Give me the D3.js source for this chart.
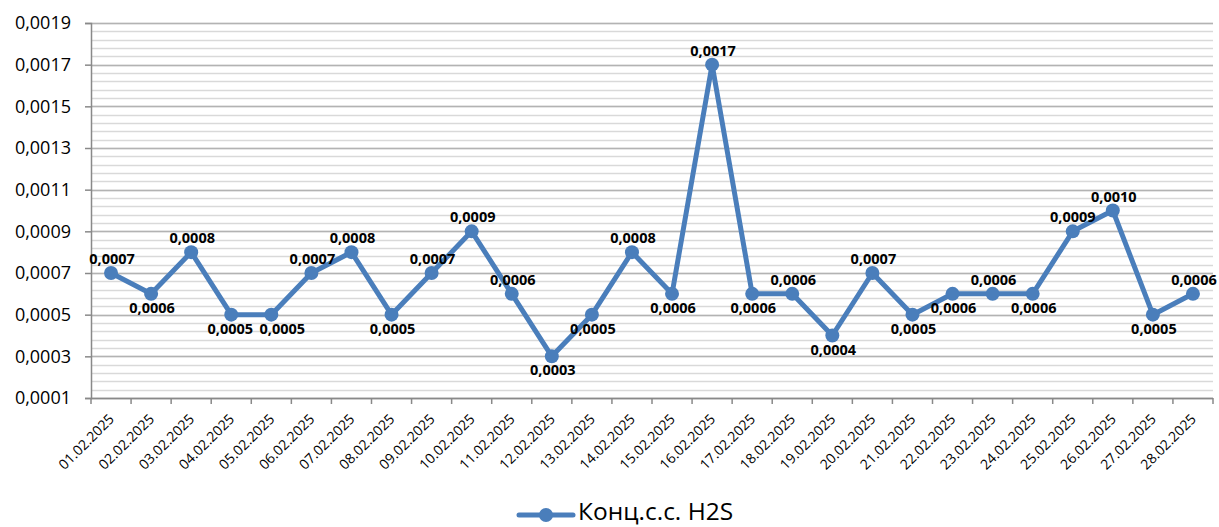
<!DOCTYPE html>
<html><head><meta charset="utf-8">
<script src="https://cdn.jsdelivr.net/npm/d3@7"></script>
<style>body{margin:0;background:#fff;} svg{display:block;}</style>
</head><body>
<svg id="c" width="1219" height="527"></svg>
<script>
const categories = ["01.02.2025","02.02.2025","03.02.2025","04.02.2025","05.02.2025","06.02.2025","07.02.2025","08.02.2025","09.02.2025","10.02.2025","11.02.2025","12.02.2025","13.02.2025","14.02.2025","15.02.2025","16.02.2025","17.02.2025","18.02.2025","19.02.2025","20.02.2025","21.02.2025","22.02.2025","23.02.2025","24.02.2025","25.02.2025","26.02.2025","27.02.2025","28.02.2025"];
const values = [0.0007,0.0006,0.0008,0.0005,0.0005,0.0007,0.0008,0.0005,0.0007,0.0009,0.0006,0.0003,0.0005,0.0008,0.0006,0.0017,0.0006,0.0006,0.0004,0.0007,0.0005,0.0006,0.0006,0.0006,0.0009,0.0010,0.0005,0.0006];
const labelSide = ["a","b","a","b","b","a","a","b","a","a","a","b","b","a","b","a","b","a","b","a","b","b","a","b","a","a","b","a"];
const yTicks = [0.0001,0.0003,0.0005,0.0007,0.0009,0.0011,0.0013,0.0015,0.0017,0.0019];
const seriesName = "Конц.с.с. H2S";

const svg = d3.select("#c");
const L = 91, R = 1213, T = 23, B = 398;
const x = d3.scaleBand().domain(categories).range([L, R]);
const y = d3.scaleLinear().domain([0.0001, 0.0019]).range([B, T]);
const fmt = v => d3.format(".4f")(v).replace(".", ",");
const color = "#4a7ebb";
const font = "'Open Sans', sans-serif";
const labelNudge = {4: 10, 3: -2, 24: -1};

// minor gridlines
const minor = d3.range(0, 46).map(i => 0.0001 + i * 0.00004);
svg.append("g").selectAll("line").data(minor).join("line")
  .attr("x1", L).attr("x2", R)
  .attr("y1", d => Math.round(y(d)) + 0.5).attr("y2", d => Math.round(y(d)) + 0.5)
  .attr("stroke", "#d9d9d9").attr("stroke-width", 1.3);
// major gridlines
svg.append("g").selectAll("line").data(yTicks).join("line")
  .attr("x1", L).attr("x2", R)
  .attr("y1", d => Math.round(y(d)) + 0.5).attr("y2", d => Math.round(y(d)) + 0.5)
  .attr("stroke", "#b3b3b3").attr("stroke-width", 1.3);

// y axis
const yAxis = svg.append("g").attr("transform", `translate(${L},0)`)
  .call(d3.axisLeft(y).tickValues(yTicks).tickFormat(fmt).tickSize(6).tickPadding(14));
yAxis.select(".domain").attr("stroke", "#898989").attr("stroke-width", 1.5);
yAxis.selectAll(".tick line").attr("stroke", "#898989").attr("stroke-width", 1.5);
yAxis.selectAll("text").attr("font-family", font).attr("font-size", 18).attr("fill", "#000");

// x axis
const xg = svg.append("g").attr("transform", `translate(0,${B})`);
xg.append("line").attr("x1", L).attr("x2", R).attr("y1", 0.5).attr("y2", 0.5)
  .attr("stroke", "#898989").attr("stroke-width", 1.5);
const bounds = categories.map(c => x(c)).concat([R]);
xg.selectAll("line.tk").data(bounds).join("line").attr("class", "tk")
  .attr("x1", d => d).attr("x2", d => d).attr("y1", 0).attr("y2", 6)
  .attr("stroke", "#898989").attr("stroke-width", 1.5);
xg.selectAll("text").data(categories).join("text")
  .attr("transform", d => `translate(${x(d) + x.bandwidth() / 2 + 4},${22}) rotate(-45)`)
  .attr("text-anchor", "end")
  .attr("font-family", font).attr("font-size", 14).attr("fill", "#000")
  .text(d => d);

// line
const cx = (d, i) => x(categories[i]) + x.bandwidth() / 2;
const line = d3.line().x((d, i) => cx(d, i)).y(d => y(d));
svg.append("path").datum(values).attr("d", line)
  .attr("fill", "none").attr("stroke", color).attr("stroke-width", 5)
  .attr("stroke-linejoin", "round").attr("stroke-linecap", "round");
svg.append("g").selectAll("circle").data(values).join("circle")
  .attr("cx", (d, i) => cx(d, i)).attr("cy", d => y(d)).attr("r", 7)
  .attr("fill", color);

// data labels
svg.append("g").selectAll("text").data(values).join("text")
  .attr("x", (d, i) => cx(d, i) + 1 + (labelNudge[i] || 0))
  .attr("y", (d, i) => y(d) + (labelSide[i] === "a" ? -9 : 19))
  .attr("text-anchor", "middle")
  .attr("font-family", font).attr("font-size", 14.5).attr("font-weight", "bold").attr("fill", "#000")
  .text(d => fmt(d));

// legend
const lg = svg.append("g");
lg.append("line").attr("x1", 519).attr("x2", 573).attr("y1", 515).attr("y2", 515)
  .attr("stroke", color).attr("stroke-width", 5).attr("stroke-linecap", "round");
lg.append("circle").attr("cx", 546).attr("cy", 515).attr("r", 7).attr("fill", color);
lg.append("text").attr("x", 578).attr("y", 520).attr("font-family", font).attr("font-size", 24.5)
  .attr("fill", "#000").text(seriesName);
</script>
</body></html>
